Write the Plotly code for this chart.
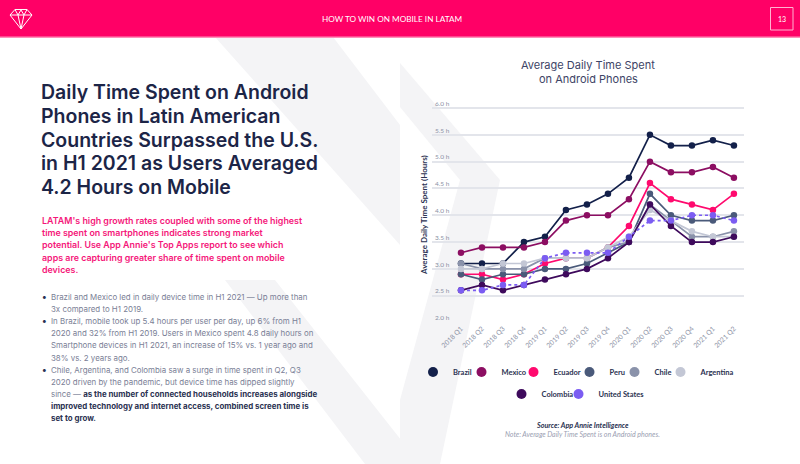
import plotly.graph_objects as go

W, H = 800, 464

quarters = ["2018 Q1", "2018 Q2", "2018 Q3", "2018 Q4", "2019 Q1", "2019 Q2", "2019 Q3",
            "2019 Q4", "2020 Q1", "2020 Q2", "2020 Q3", "2020 Q4", "2021 Q1", "2021 Q2"]
brazil = [3.1, 3.1, 3.1, 3.5, 3.6, 4.1, 4.2, 4.4, 4.7, 5.5, 5.3, 5.3, 5.4, 5.3]
mexico = [3.3, 3.4, 3.4, 3.4, 3.5, 3.9, 4.0, 4.0, 4.3, 5.0, 4.8, 4.8, 4.9, 4.7]
ecuador = [2.9, 2.9, 2.8, 2.9, 3.1, 3.2, 3.2, 3.4, 3.8, 4.6, 4.3, 4.2, 4.1, 4.4]
peru = [2.9, 2.8, 2.9, 2.9, 3.0, 3.0, 3.1, 3.3, 3.5, 4.4, 4.0, 3.9, 3.9, 4.0]
chile = [3.1, 3.0, 3.0, 3.0, 3.2, 3.2, 3.2, 3.4, 3.5, 4.2, 3.9, 3.6, 3.6, 3.7]
argentina = [3.0, 3.0, 3.1, 3.1, 3.2, 3.2, 3.2, 3.4, 3.6, 4.1, 3.9, 3.7, 3.6, 3.6]
colombia = [2.6, 2.7, 2.6, 2.7, 2.8, 2.9, 3.0, 3.2, 3.5, 4.2, 3.8, 3.5, 3.5, 3.6]
united_states = [2.6, 2.6, 2.7, 2.7, 3.2, 3.3, 3.3, 3.3, 3.6, 3.9, 3.9, 4.0, 4.0, 3.9]

countries = ["Brazil", "Mexico", "Ecuador", "Peru", "Chile", "Argentina", "Colombia", "United States"]
series = [brazil, mexico, ecuador, peru, chile, argentina, colombia, united_states]
colors = ["#13204A", "#8C0E62", "#FF0A6E", "#4A5A7A", "#8A92AA", "#C3C7D5", "#3E0A5C", "#7B5CF2"]
dashes = ["solid"] * 7 + ["dot"]

y_ticks = [2.0, 2.5, 3.0, 3.5, 4.0, 4.5, 5.0, 5.5, 6.0]
y_tick_labels = ["2.0 h", "2.5 h", "3.0 h", "3.5 h", "4.0 h", "4.5 h", "5.0 h", "5.5 h", "6.0 h"]

y_title = "Average Daily Time Spent (Hours)"
header_text = "HOW TO WIN ON MOBILE IN LATAM"
page_no = "13"
chart_title_lines = ["Average Daily Time Spent", "on Android Phones"]
title_lines = ["Daily Time Spent on Android", "Phones in Latin American",
               "Countries Surpassed the U.S.", "in H1 2021 as Users Averaged",
               "4.2 Hours on Mobile"]
pink_lines = ["LATAM's high growth rates coupled with some of the highest",
              "time spent on smartphones indicates strong market",
              "potential. Use App Annie's Top Apps report to see which",
              "apps are capturing greater share of time spent on mobile",
              "devices."]
bullet_lines = [
    (True, "Brazil and Mexico led in daily device time in H1 2021 \u2014 Up more than"),
    (False, "3x compared to H1 2019."),
    (True, "In Brazil, mobile took up 5.4 hours per user per day, up 6% from H1"),
    (False, "2020 and 32% from H1 2019. Users in Mexico spent 4.8 daily hours on"),
    (False, "Smartphone devices in H1 2021, an increase of 15% vs. 1 year ago and"),
    (False, "38% vs. 2 years ago."),
    (True, "Chile, Argentina, and Colombia saw a surge in time spent in Q2, Q3"),
    (False, "2020 driven by the pandemic, but device time has dipped slightly"),
    (False, "since \u2014 <b>as the number of connected households increases alongside</b>"),
    (False, "<b>improved technology and internet access, combined screen time is</b>"),
    (False, "<b>set to grow.</b>"),
]
source_text = "<b><i>Source: App Annie Intelligence</i></b>"
note_text = "<i>Note: Average Daily Time Spent is on Android phones.</i>"


def px(x):
    return x / W


def py(y):
    return 1 - y / H


def path(points, close=True):
    s = "M " + " L ".join(f"{px(a):.5f},{py(b):.5f}" for a, b in points)
    return s + (" Z" if close else "")


FONT = "Lato"
BODY = "Inter"
fig = go.Figure()

for name, vals, col, dash in zip(countries, series, colors, dashes):
    fig.add_trace(go.Scatter(
        x=quarters, y=vals, mode="lines+markers", name=name, showlegend=False,
        line=dict(color=col, width=1.7, dash=dash),
        marker=dict(color=col, size=6.5),
        hoverinfo="x+y+name"))

# legend entries (one legend per entry to control placement)
leg_marker_x = [433, 481.5, 533.5, 589.5, 634.5, 680.5, 521.5, 578.5]
leg_y = [372, 372, 372, 372, 372, 372, 394, 394]
legends = {}
for i, (name, col) in enumerate(zip(countries, colors)):
    key = "legend" if i == 0 else f"legend{i + 1}"
    fig.add_trace(go.Scatter(x=[None], y=[None], mode="markers", name=name,
                             marker=dict(color=col, size=10), legend=key,
                             showlegend=True, hoverinfo="skip"))
    legends[key] = dict(x=px(leg_marker_x[i] - 20), y=py(leg_y[i]), xref="container", yref="container",
                        xanchor="left", yanchor="middle", bgcolor="rgba(0,0,0,0)",
                        borderwidth=0, itemwidth=30,
                        font=dict(family=FONT, size=7.5, color="#2B3252", weight=700))

shapes = []
# watermark
wm = "#F4F4F6"
shapes.append(dict(type="path", path=path([(215, 37), (333, 37), (400, 125), (400, 245)]),
                   fillcolor=wm, line=dict(width=0), layer="below", xref="paper", yref="paper"))
shapes.append(dict(type="path", path=path([(400, 63), (400, 107), (460, 180), (400, 400), (400, 464), (440, 464), (500, 180)]),
                   fillcolor=wm, line=dict(width=0), layer="below", xref="paper", yref="paper"))
shapes.append(dict(type="path", path=path([(225, 280), (275, 280), (420, 464), (365, 464)]),
                   fillcolor=wm, line=dict(width=0), layer="below", xref="paper", yref="paper"))
# header
shapes.append(dict(type="rect", x0=0, x1=1, y0=py(37), y1=1, fillcolor="#FF0066",
                   line=dict(width=0), xref="paper", yref="paper", layer="above"))
shapes.append(dict(type="rect", x0=0, x1=1, y0=py(38), y1=py(36.5), fillcolor="#FF8FBA",
                   line=dict(width=0), xref="paper", yref="paper", layer="above"))
shapes.append(dict(type="rect", x0=px(770.5), x1=px(793), y0=py(30), y1=py(7.5),
                   line=dict(color="#FFB3D1", width=1), xref="paper", yref="paper", layer="above"))
# logo
gem = [(15, 9.5), (27, 9.5), (32, 15), (21, 29), (10, 15)]
shapes.append(dict(type="path", path=path(gem), line=dict(color="white", width=1),
                   xref="paper", yref="paper", layer="above"))
shapes.append(dict(type="path", path=path([(10, 15), (32, 15)], close=False), line=dict(color="white", width=1),
                   xref="paper", yref="paper", layer="above"))
shapes.append(dict(type="path", path=path([(15, 9.5), (18, 15), (21, 29), (24, 15), (27, 9.5)], close=False),
                   line=dict(color="white", width=1), xref="paper", yref="paper", layer="above"))
shapes.append(dict(type="path", path=path([(18, 15), (21, 10), (24, 15)], close=False),
                   line=dict(color="white", width=1), xref="paper", yref="paper", layer="above"))

ann = []


def text(x, y, t, size, color, weight=400, anchor="left", family=FONT, style="normal"):
    ann.append(dict(x=px(x), y=py(y), xref="paper", yref="paper", text=t, showarrow=False,
                    xanchor=anchor, yanchor="middle",
                    font=dict(family=family, size=size, color=color, weight=weight, style=style)))


text(392, 19, header_text, 8.2, "white", 400, "center")
text(782, 19, page_no, 7, "white", 400, "center")

for i, t in enumerate(title_lines):
    text(39, 92 + 23.8 * i, t, 19.5, "#1C2547", 600, family=BODY)
for i, t in enumerate(pink_lines):
    text(40, 220 + 12.45 * i, t, 8.9, "#F5177A", 600, family=BODY)
for i, (bul, t) in enumerate(bullet_lines):
    yy = 297.3 + 12.04 * i
    if bul:
        text(44.5, yy, "\u2022", 8, "#2B3252", 400, "center")
    color = "#7A8096"
    t = t.replace("<b>", "<b><span style='color:#2B3252'>").replace("</b>", "</span></b>")
    text(49, yy, t, 7.9, color, 400, family=BODY)

for i, t in enumerate(chart_title_lines):
    text(588, 65 + 14 * i, t, 11, "#3D4466", 400, "center", family=BODY)
ann.append(dict(x=px(424), y=py(215), xref="paper", yref="paper", text=y_title, showarrow=False,
                textangle=-90, xanchor="center", yanchor="middle",
                font=dict(family=FONT, size=8, color="#2B3252", weight=700)))
text(582, 425, source_text, 7.2, "#2B3252", 400, "center")
text(582, 434, note_text, 7, "#9AA0B2", 400, "center")

# y range extended a little above 6.0 so the top tick label stays visible
y_lo, y_hi = 2.0, 6.2
px_per_h = (322.5 - 108) / 4.0
top_px = 108 - (y_hi - 6.0) * px_per_h

fig.update_layout(
    width=W, height=H, autosize=False, margin=dict(l=0, r=0, t=0, b=0, autoexpand=False),
    paper_bgcolor="white", plot_bgcolor="rgba(0,0,0,0)",
    font=dict(family=FONT),
    xaxis=dict(domain=[px(432), px(744)], type="category", range=[-1.38, 13.48],
               showgrid=False, zeroline=False, showline=False, ticks="",
               tickangle=-45, tickfont=dict(family=FONT, size=6.8, color="#8A90A4")),
    yaxis=dict(domain=[py(322.5), py(top_px)], range=[y_lo, y_hi], tickvals=y_ticks, ticktext=y_tick_labels,
               ticklabelposition="inside top", showgrid=True, gridcolor="#E3E5EB", gridwidth=1.5,
               zeroline=False, showline=False, ticks="",
               tickfont=dict(family=FONT, size=6.5, color="#8A90A4")),
    shapes=shapes, annotations=ann,
    hovermode="closest",
    **legends,
)

fig.write_html("out.html")
